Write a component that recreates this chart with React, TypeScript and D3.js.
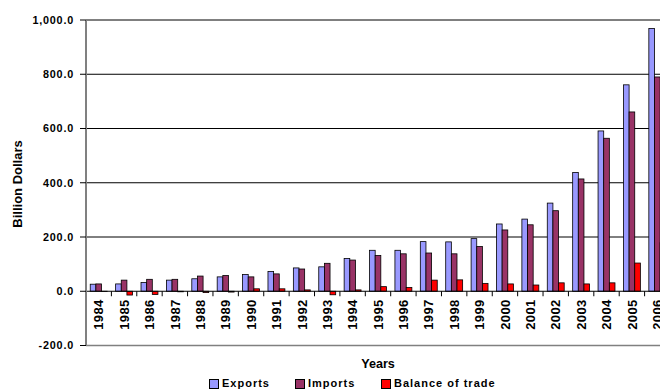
import React from "react";
import * as d3 from "d3";

// Annual trade figures, billions of dollars
const years = [
  "1984", "1985", "1986", "1987", "1988", "1989", "1990", "1991", "1992", "1993", "1994", "1995",
  "1996", "1997", "1998", "1999", "2000", "2001", "2002", "2003", "2004", "2005", "2006",
];
const exportsData = [26, 27, 32, 41, 46, 53, 62, 73, 86, 90, 121, 151, 151, 183, 182, 194, 248, 266, 325, 438, 591, 761, 969];
const importsData = [27, 41, 44, 44, 56, 58, 53, 64, 82, 103, 115, 132, 138, 141, 138, 165, 226, 245, 297, 414, 564, 661, 790];
const balanceData = [-1, -14, -12, -2, -5, -3, 9, 9, 5, -13, 5, 17, 14, 41, 42, 29, 27, 23, 31, 27, 31, 104, 179];

const yTicks = [-200, 0, 200, 400, 600, 800, 1000];
const seriesNames = ["Exports", "Imports", "Balance of trade"];
const seriesColors = ["#9999FF", "#993366", "#FF0000"];

const W = 660;
const H = 390;
const FONT = "'Liberation Sans', Arial, sans-serif";

// plain hyphen for negatives, comma thousands, one decimal
const locale = d3.formatLocale({ decimal: ".", thousands: ",", grouping: [3], currency: ["", ""], minus: "-" });
const fmt = locale.format(",.1f");

export default function App() {
  const left = 86;
  const right = 670;
  const top = 20;
  const bottom = 345.5;

  const x = d3.scaleBand<string>().domain(years).range([left, right]).paddingInner(0).paddingOuter(0);
  const y = d3.scaleLinear().domain([-200, 1000]).range([bottom, top]);
  const bw = x.bandwidth() / 4.5;
  const groupOffset = (x.bandwidth() - 3 * bw) / 2;
  const sub = d3.scaleBand<number>().domain([0, 1, 2]).range([0, 3 * bw]);
  const series = [exportsData, importsData, balanceData];
  const y0 = y(0);

  return (
    <svg
      width={W}
      height={H}
      style={{ position: "absolute", left: 0, top: 0, display: "block", background: "#fff" }}
      fontFamily={FONT}
    >
      <rect x={0} y={0} width={W} height={H} fill="#fff" />

      {/* horizontal gridlines */}
      {yTicks
        .filter((t) => t > 0)
        .map((t) => (
          <line key={"g" + t} x1={left} x2={right} y1={y(t)} y2={y(t)} stroke="#000" strokeWidth={1} />
        ))}
      {/* plot floor */}
      <line x1={left} x2={right} y1={bottom} y2={bottom} stroke="#808080" strokeWidth={1.5} />

      {/* bars */}
      {series.map((vals, si) =>
        vals.map((v, i) => {
          const bx = (x(years[i]) as number) + groupOffset + (sub(si) as number);
          const yt = Math.min(y(v), y0);
          const h = Math.abs(y(v) - y0);
          return (
            <rect
              key={`b${si}-${i}`}
              x={bx}
              y={yt}
              width={bw}
              height={h}
              fill={seriesColors[si]}
              stroke="#000"
              strokeWidth={0.8}
            />
          );
        })
      )}

      {/* category axis at zero */}
      <line x1={left} x2={right} y1={y0} y2={y0} stroke="#000" strokeWidth={1} />
      {years.map((yr) => (
        <line
          key={"xt" + yr}
          x1={x(yr) as number}
          x2={x(yr) as number}
          y1={y0}
          y2={y0 + 5}
          stroke="#000"
          strokeWidth={1}
        />
      ))}
      {years.map((yr) => {
        const cx = (x(yr) as number) + x.bandwidth() / 2;
        return (
          <text
            key={"xl" + yr}
            transform={`translate(${cx},${y0 + 8}) rotate(-90)`}
            textAnchor="end"
            dy="0.36em"
            fontSize={13}
            fontWeight="bold"
            letterSpacing={0.4}
            fill="#000"
          >
            {yr}
          </text>
        );
      })}

      {/* value axis */}
      <line x1={left} x2={left} y1={top} y2={bottom} stroke="#808080" strokeWidth={2} />
      {yTicks.map((t) => (
        <g key={"yt" + t}>
          <line x1={left - 6} x2={left} y1={y(t)} y2={y(t)} stroke="#000" strokeWidth={1} />
          <text
            x={74}
            y={y(t)}
            dy="0.36em"
            textAnchor="end"
            fontSize={10.8}
            fontWeight="bold"
            letterSpacing={0.8}
            fill="#000"
          >
            {fmt(t)}
          </text>
        </g>
      ))}
      <text
        transform={`translate(22,${(140 + 228) / 2}) rotate(-90)`}
        textAnchor="middle"
        fontSize={13}
        fontWeight="bold"
        fill="#000"
      >
        Billion Dollars
      </text>

      {/* axis title */}
      <text x={378} y={368} textAnchor="middle" fontSize={12.6} fontWeight="bold" fill="#000">
        Years
      </text>

      {/* legend */}
      {seriesNames.map((name, i) => {
        const sx = [209.5, 295.5, 381.5][i];
        return (
          <g key={"lg" + name}>
            <rect x={sx} y={379.5} width={9} height={9} fill={seriesColors[i]} stroke="#000" strokeWidth={1} />
            <text
              x={sx + 12.5}
              y={387}
              fontSize={11}
              fontWeight="bold"
              letterSpacing={1}
              fill="#000"
            >
              {name}
            </text>
          </g>
        );
      })}
    </svg>
  );
}
